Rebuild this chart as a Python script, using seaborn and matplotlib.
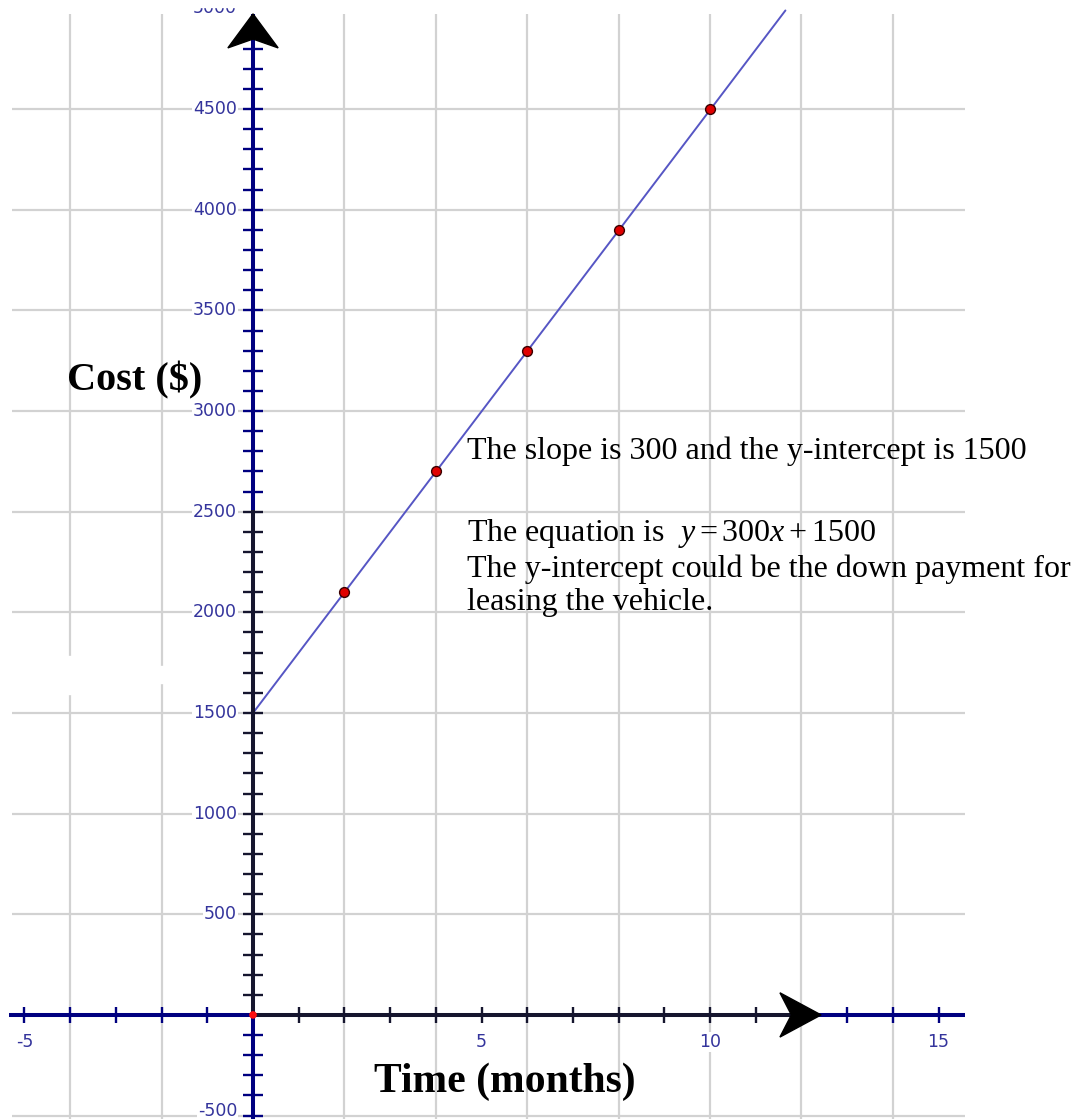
import matplotlib
matplotlib.use('Agg')
import matplotlib.pyplot as plt
from matplotlib.patches import Polygon, Rectangle
import seaborn as sns

# --- datos ---
meses = [2, 4, 6, 8, 10]
costes = [2100, 2700, 3300, 3900, 4500]
recta_x = [0, 11.65]
recta_y = [1500, 4990]
origen_x = [0]
origen_y = [0]

etiquetas_x = [-5, 5, 10, 15]
etiquetas_y = [-500, 500, 1000, 1500, 2000, 2500, 3000, 3500, 4000, 4500, 5000]
rejilla_x = [-4, -2, 2, 4, 6, 8, 10, 12, 14]
rejilla_y = [-500, 500, 1000, 1500, 2000, 2500, 3000, 3500, 4000, 4500]
marcas_x = [-5, -4, -3, -2, -1, 1, 2, 3, 4, 5, 6, 7, 8, 9, 10, 11, 12, 13, 14, 15]
marcas_y = [v for v in range(-500, 5000, 100) if v != 0]

titulo_y = 'Cost ($)'
titulo_x = 'Time (months)'
notas = [
    'The slope is 300 and the y-intercept is 1500',
    'The equation is  $y = 300x + 1500$',
    'The y-intercept could be the down payment for',
    'leasing the vehicle.',
]

sns.set_style('white')
plt.rcParams['font.family'] = ['DejaVu Sans']
plt.rcParams['mathtext.fontset'] = 'custom'
plt.rcParams['mathtext.rm'] = 'Liberation Serif'
plt.rcParams['mathtext.it'] = 'Liberation Serif:italic'

AZUL = '#000080'
NEGRO = '#15152e'
GRIS = '#d2d2d2'
ETIQ = '#34349c'

fig = plt.figure(figsize=(10.77, 11.19), dpi=100)
ax = fig.add_axes([0, 0, 1, 1])
ax.set_xlim(-5.536, 18.03)
ax.set_ylim(-517, 5042)
ax.axis('off')

# rejilla
x_ini, x_fin = -5.27, 15.58
y_tope = 4973
ax.hlines(rejilla_y, x_ini, x_fin, colors=GRIS, lw=1.6, zorder=1)
ax.vlines(rejilla_x, -517, y_tope, colors=GRIS, lw=1.6, zorder=1)

# zona borrada junto al eje y
ax.add_patch(Rectangle((-4.25, 1595), 0.5, 190, color='white', zorder=2))
ax.add_patch(Rectangle((-2.25, 1650), 0.5, 85, color='white', zorder=2))

# ejes
lw_eje = 2.9
ax.plot([-5.34, 0], [0, 0], color=AZUL, lw=lw_eje, solid_capstyle='butt', zorder=4)
ax.plot([0, 12.3], [0, 0], color=NEGRO, lw=lw_eje, solid_capstyle='butt', zorder=4)
ax.plot([12.3, x_fin], [0, 0], color=AZUL, lw=lw_eje, solid_capstyle='butt', zorder=4)
ax.plot([0, 0], [-517, 0], color=AZUL, lw=lw_eje, solid_capstyle='butt', zorder=4)
ax.plot([0, 0], [0, 2510], color=NEGRO, lw=lw_eje, solid_capstyle='butt', zorder=4)
ax.plot([0, 0], [2510, y_tope], color=AZUL, lw=lw_eje, solid_capstyle='butt', zorder=4)

# marcas
col_mx = [NEGRO if 0 < v < 12.3 else AZUL for v in marcas_x]
ax.vlines(marcas_x, -40, 40, colors=col_mx, lw=1.7, zorder=4)
col_my = [NEGRO if 0 < v < 2510 else AZUL for v in marcas_y]
ax.hlines(marcas_y, -0.22, 0.22, colors=col_my, lw=1.7, zorder=4)

# flechas
ax.add_patch(Polygon([(0, 4973), (0.55, 4804), (0, 4848), (-0.55, 4804)],
                     closed=True, color='black', zorder=6))
ax.add_patch(Polygon([(12.43, 0), (11.53, 110), (11.78, 0), (11.53, -110)],
                     closed=True, color='black', zorder=6))

# etiquetas de los ejes
caja = dict(facecolor='white', edgecolor='none', pad=0.5)
for v in etiquetas_y:
    # el -500 queda pegado al borde inferior: se sube un poco para que se lea
    yy = -478 if v == -500 else v
    ax.text(-0.35, yy, str(v), ha='right', va='center', fontsize=12.5,
            color=ETIQ, bbox=caja, zorder=5)
for v in etiquetas_x:
    ax.text(v, -134, str(v), ha='center', va='center', fontsize=12.5,
            color=ETIQ, bbox=caja, zorder=5)
# la parte de arriba del 5000 esta cortada
ax.add_patch(Rectangle((-1.7, 5008), 1.4, 60, color='white', zorder=5.5))

# recta y puntos
sns.lineplot(x=recta_x, y=recta_y, ax=ax, color='#5656c4', lw=1.4, zorder=3)
sns.scatterplot(x=meses, y=costes, ax=ax, color='#e00000', edgecolor='#3a0000',
                linewidth=1, s=50, zorder=7)
sns.scatterplot(x=origen_x, y=origen_y, ax=ax, color='#ff1010', edgecolor='none',
                s=30, zorder=7)

# titulos
serif = ['Liberation Serif', 'DejaVu Serif']
ax.text(-4.07, 3150, titulo_y, ha='left', va='center', fontsize=29,
        fontweight='bold', family=serif, color='black')
ax.text(2.65, -330, titulo_x, ha='left', va='center', fontsize=30,
        fontweight='bold', family=serif, color='black')

# notas
pos_y = [2802, 2394, 2216, 2047]
for t, yy in zip(notas, pos_y):
    ax.text(4.68, yy, t, ha='left', va='center', fontsize=23, family=serif,
            color='black', zorder=8)

fig.savefig('out.png', dpi=100)
